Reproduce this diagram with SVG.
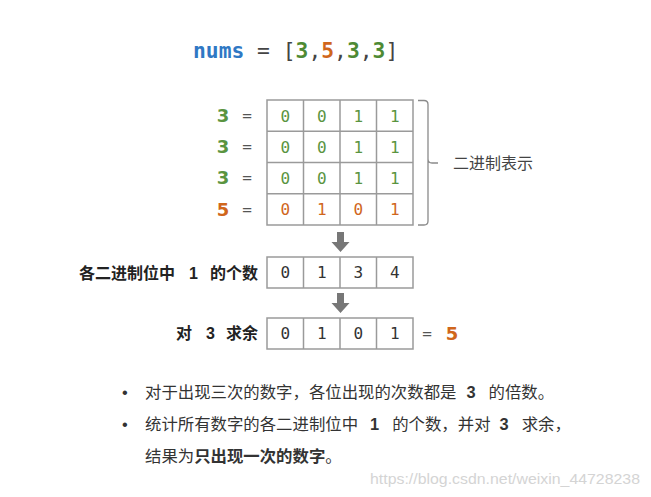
<svg xmlns="http://www.w3.org/2000/svg" width="651" height="497" viewBox="0 0 651 497">
<style>
.mono{font-family:"DejaVu Sans Mono","Liberation Mono",monospace;}
.cjk{font-family:"Liberation Sans","Noto Sans CJK SC",sans-serif;}
.cell{fill:#fff;stroke:#9a9a9a;stroke-width:1.5;}
.d{font-family:"DejaVu Sans Mono","Liberation Mono",monospace;font-size:16px;text-anchor:middle;}
.g{fill:#5a9440;}
.o{fill:#d0661c;}
.k{fill:#333;}
.lab{font-family:"DejaVu Sans","Liberation Sans",sans-serif;font-size:18px;font-weight:bold;text-anchor:middle;}
.eq{font-family:"DejaVu Sans Mono",monospace;font-size:16px;fill:#555;text-anchor:middle;}
.arrow{fill:#777;}
</style>
<rect width="651" height="497" fill="#fff"/>

<g id="title">
<text x="193" y="58" class="mono" font-size="21.3" xml:space="preserve"><tspan fill="#2f78c4" font-weight="bold">nums</tspan><tspan fill="#444"> = [</tspan><tspan fill="#4e8a34" font-weight="bold">3</tspan><tspan fill="#444">,</tspan><tspan fill="#d0661c" font-weight="bold">5</tspan><tspan fill="#444">,</tspan><tspan fill="#4e8a34" font-weight="bold">3</tspan><tspan fill="#444">,</tspan><tspan fill="#4e8a34" font-weight="bold">3</tspan><tspan fill="#444">]</tspan></text>
</g>

<g id="row-labels">
<text x="223" y="122" class="lab g">3</text><text x="247" y="121" class="eq">=</text>
<text x="223" y="153" class="lab g">3</text><text x="247" y="152" class="eq">=</text>
<text x="223" y="184" class="lab g">3</text><text x="247" y="183" class="eq">=</text>
<text x="223" y="216" class="lab o">5</text><text x="247" y="215" class="eq">=</text>
</g>

<g id="binary-grid">
<rect class="cell" x="267" y="100" width="146" height="125"/>
<path d="M303.5 100V225M340 100V225M376.5 100V225M267 131.25H413M267 162.5H413M267 193.75H413" stroke="#9a9a9a" stroke-width="1.5" fill="none"/>
<g class="d g">
<text x="285.25" y="121.5">0</text><text x="321.75" y="121.5">0</text><text x="358.25" y="121.5">1</text><text x="394.75" y="121.5">1</text>
<text x="285.25" y="152.8">0</text><text x="321.75" y="152.8">0</text><text x="358.25" y="152.8">1</text><text x="394.75" y="152.8">1</text>
<text x="285.25" y="184">0</text><text x="321.75" y="184">0</text><text x="358.25" y="184">1</text><text x="394.75" y="184">1</text>
</g>
<g class="d o">
<text x="285.25" y="215.3">0</text><text x="321.75" y="215.3">1</text><text x="358.25" y="215.3">0</text><text x="394.75" y="215.3">1</text>
</g>
</g>

<g id="bracket">
<path d="M418 100.5H424Q428 100.5 428 104.5V159Q428 163 432 163H438M428 159V221Q428 225 424 225H418" fill="none" stroke="#8a8a8a" stroke-width="1.3"/>
<text x="453" y="169" class="cjk" font-size="16" fill="#444">二进制表示</text>
</g>

<g id="connectors">
<path class="arrow" d="M337 232H344V242H349.5L340.5 252L331.5 242H337Z"/>
<path class="arrow" d="M337 293H344V303H349.5L340.5 313L331.5 303H337Z"/>
</g>

<g id="count-row">
<text x="258" y="279" class="cjk" font-size="16" font-weight="bold" fill="#222" text-anchor="end">各二进制位中<tspan dx="14">1</tspan><tspan dx="12">的个数</tspan></text>
<rect class="cell" x="267" y="257" width="146" height="31"/>
<path d="M303.5 257V288M340 257V288M376.5 257V288" stroke="#9a9a9a" stroke-width="1.5"/>
<g class="d k">
<text x="285.25" y="278">0</text><text x="321.75" y="278">1</text><text x="358.25" y="278">3</text><text x="394.75" y="278">4</text>
</g>
</g>

<g id="mod-row">
<text x="258" y="339" class="cjk" font-size="16" font-weight="bold" fill="#222" text-anchor="end">对<tspan dx="14">3</tspan><tspan dx="11">求余</tspan></text>
<rect class="cell" x="267" y="318" width="146" height="31"/>
<path d="M303.5 318V349M340 318V349M376.5 318V349" stroke="#9a9a9a" stroke-width="1.5"/>
<g class="d k">
<text x="285.25" y="339">0</text><text x="321.75" y="339">1</text><text x="358.25" y="339">0</text><text x="394.75" y="339">1</text>
</g>
<text x="427" y="339" class="eq">=</text>
<text x="452" y="340" class="lab o" font-size="20">5</text>
</g>

<g id="notes" class="cjk" font-size="16.4" fill="#333">
<text x="122" y="398">•</text>
<text x="145" y="398">对于出现三次的数字，各位出现的次数都是<tspan dx="10" font-weight="bold">3</tspan><tspan dx="13">的倍数。</tspan></text>
<text x="122" y="430">•</text>
<text x="145" y="430">统计所有数字的各二进制位中<tspan dx="12" font-weight="bold">1</tspan><tspan dx="13">的个数，并对</tspan><tspan dx="9" font-weight="bold">3</tspan><tspan dx="13">求余，</tspan></text>
<text x="145" y="462">结果为<tspan font-weight="bold">只出现一次的数字</tspan>。</text>
</g>

<g id="watermark">
<text x="370" y="484" font-family="Liberation Sans,sans-serif" font-size="15.5" fill="#d4d4d4" textLength="270" lengthAdjust="spacingAndGlyphs">https://blog.csdn.net/weixin_44728238</text>
</g>
</svg>
